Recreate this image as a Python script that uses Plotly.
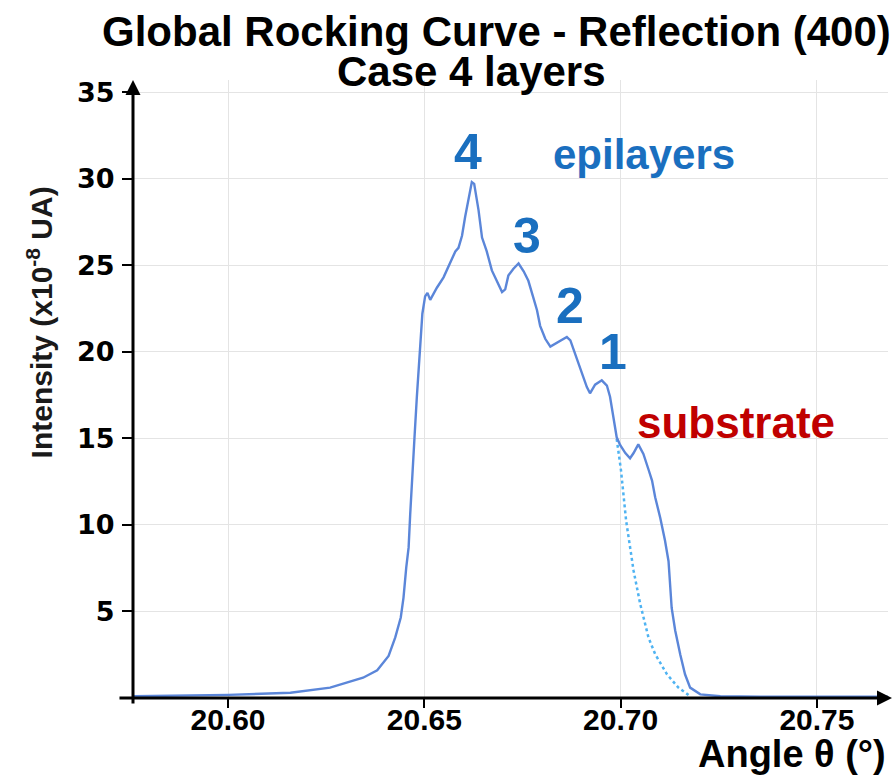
import plotly.graph_objects as go

# Measured rocking curve (angle in degrees, intensity in 1e-8 arbitrary units)
angle = [20.5759, 20.6001, 20.6159, 20.6260, 20.6344, 20.6380, 20.6409, 20.6426,
         20.6440, 20.6447, 20.6454, 20.6460, 20.6464, 20.6470, 20.6475, 20.6481,
         20.6490, 20.6495, 20.6502, 20.6508, 20.6515, 20.6523, 20.6532, 20.6549,
         20.6566, 20.6579, 20.6587, 20.6596, 20.6604, 20.6613, 20.6621, 20.6627,
         20.6638, 20.6647, 20.6659, 20.6672, 20.6685, 20.6698, 20.6706, 20.6714,
         20.6727, 20.6740, 20.6753, 20.6765, 20.6778, 20.6787, 20.6795, 20.6808,
         20.6821, 20.6833, 20.6850, 20.6863, 20.6872, 20.6884, 20.6897, 20.6914,
         20.6922, 20.6935, 20.6952, 20.6965, 20.6973, 20.6982, 20.6990, 20.6999,
         20.7012, 20.7024, 20.7033, 20.7045, 20.7058, 20.7071, 20.7080, 20.7088,
         20.7101, 20.7113, 20.7122, 20.7130, 20.7139, 20.7152, 20.7164, 20.7177,
         20.7203, 20.7254, 20.7356, 20.7681]
intensity = [0.10, 0.18, 0.30, 0.60, 1.17, 1.60, 2.43, 3.50,
             4.65, 5.80, 7.54, 8.70, 10.6, 13.3, 15.06, 17.4,
             20.3, 22.2, 23.2, 23.4, 23.0, 23.35, 23.7, 24.3,
             25.1, 25.8, 26.0, 26.7, 27.8, 28.95, 29.8, 29.7,
             28.2, 26.6, 25.8, 24.7, 24.1, 23.45, 23.6, 24.4,
             24.8, 25.1, 24.65, 24.1, 23.1, 22.4, 21.5, 20.75,
             20.3, 20.45, 20.66, 20.85, 20.66, 19.9, 19.0, 17.96,
             17.6, 18.1, 18.35, 18.05, 17.4, 16.2, 15.06, 14.6,
             14.15, 13.85, 14.15, 14.65, 14.1, 13.2, 12.56, 11.6,
             10.4, 9.1, 7.9, 5.2, 3.9, 2.5, 1.37, 0.6,
             0.21, 0.10, 0.08, 0.08]

# Epilayer contribution without the substrate peak
epi_angle = [20.6990, 20.7001, 20.7014, 20.7033, 20.7050, 20.7071, 20.7088,
             20.7118, 20.7147, 20.7173]
epi_intensity = [14.97, 13.14, 10.24, 7.35, 5.42, 3.49, 2.53, 1.37, 0.6, 0.17]

x_ticks = [20.60, 20.65, 20.70, 20.75]
x_tick_text = ["20.60", "20.65", "20.70", "20.75"]
y_ticks = [0, 5, 10, 15, 20, 25, 30, 35]
y_tick_text = ["", "5", "10", "15", "20", "25", "30", "35"]

peak_labels = ["4", "3", "2", "1"]
peak_x = [20.6611, 20.6762, 20.6871, 20.6981]
peak_y = [31.56, 26.7, 22.66, 20.0]

BLUE_TXT = "#1a6fbf"
RED_TXT = "#c00000"
SANS = "Liberation Sans, Arial"

fig = go.Figure()
fig.add_trace(go.Scatter(x=epi_angle, y=epi_intensity, mode="lines",
                         line=dict(color="#4fb3f2", width=2.5, dash="dot"),
                         hoverinfo="skip"))
fig.add_trace(go.Scatter(x=angle, y=intensity, mode="lines",
                         line=dict(color="#5b86d9", width=2.4)))

for lab, xv, yv in zip(peak_labels, peak_x, peak_y):
    fig.add_annotation(x=xv, y=yv, xref="x", yref="y", text=lab, showarrow=False,
                       font=dict(family=SANS, size=50, color=BLUE_TXT, weight="bold"))
fig.add_annotation(x=20.7060, y=31.4, xref="x", yref="y", text="epilayers",
                   showarrow=False,
                   font=dict(family=SANS, size=42, color=BLUE_TXT, weight="bold"))
fig.add_annotation(x=20.7294, y=15.9, xref="x", yref="y", text="substrate",
                   showarrow=False,
                   font=dict(family=SANS, size=44, color=RED_TXT, weight="bold"))

# Two-line title
fig.add_annotation(x=0.482, y=1.078, xref="paper", yref="paper",
                   xanchor="center", yanchor="middle",
                   text="Global Rocking Curve - Reflection (400)", showarrow=False,
                   font=dict(family=SANS, size=42, color="black", weight="bold"))
fig.add_annotation(x=0.449, y=1.013, xref="paper", yref="paper",
                   xanchor="center", yanchor="middle",
                   text="Case 4 layers", showarrow=False,
                   font=dict(family=SANS, size=42, color="black", weight="bold"))

# Axis titles
fig.add_annotation(x=1.0, y=-0.09, xref="paper", yref="paper",
                   xanchor="right", yanchor="middle",
                   text="Angle θ (°)", showarrow=False,
                   font=dict(family=SANS, size=38, color="black", weight="bold"))
fig.add_annotation(x=-0.123, y=0.608, xref="paper", yref="paper",
                   xanchor="center", yanchor="middle", textangle=-90,
                   text="Intensity (x10<sup>-8</sup> UA)", showarrow=False,
                   font=dict(family=SANS, size=30, color="#1a1a1a", weight="bold"))

# Axis lines with arrow heads
fig.add_annotation(x=1.0066, y=0, xref="paper", yref="paper", ax=-775, ay=0,
                   axref="pixel", ayref="pixel", text="", showarrow=True,
                   arrowhead=2, arrowsize=1, arrowwidth=3, arrowcolor="black")
fig.add_annotation(x=0, y=1.0, xref="paper", yref="paper", ax=0, ay=625,
                   axref="pixel", ayref="pixel", text="", showarrow=True,
                   arrowhead=2, arrowsize=1, arrowwidth=3, arrowcolor="black")

fig.update_layout(
    width=893, height=775,
    margin=dict(l=133, r=5, t=80, b=77),
    plot_bgcolor="white", paper_bgcolor="white",
    showlegend=False,
    xaxis=dict(range=[20.5758, 20.7681], tickvals=x_ticks, ticktext=x_tick_text,
               showgrid=True, gridcolor="#e4e4e4", gridwidth=1, zeroline=False,
               showline=False, ticks="outside", ticklen=9, tickwidth=2,
               tickcolor="black", ticklabelstandoff=-14,
               tickfont=dict(family=SANS, size=30, color="black", weight="bold")),
    yaxis=dict(range=[0, 35.7], tickvals=y_ticks, ticktext=y_tick_text,
               showgrid=True, gridcolor="#e4e4e4", gridwidth=1, zeroline=False,
               showline=False, ticks="outside", ticklen=10, tickwidth=2,
               tickcolor="black", ticklabelstandoff=2,
               tickfont=dict(family="DejaVu Sans", size=27, color="black",
                             weight="bold")),
)

fig.write_html("out.html")
